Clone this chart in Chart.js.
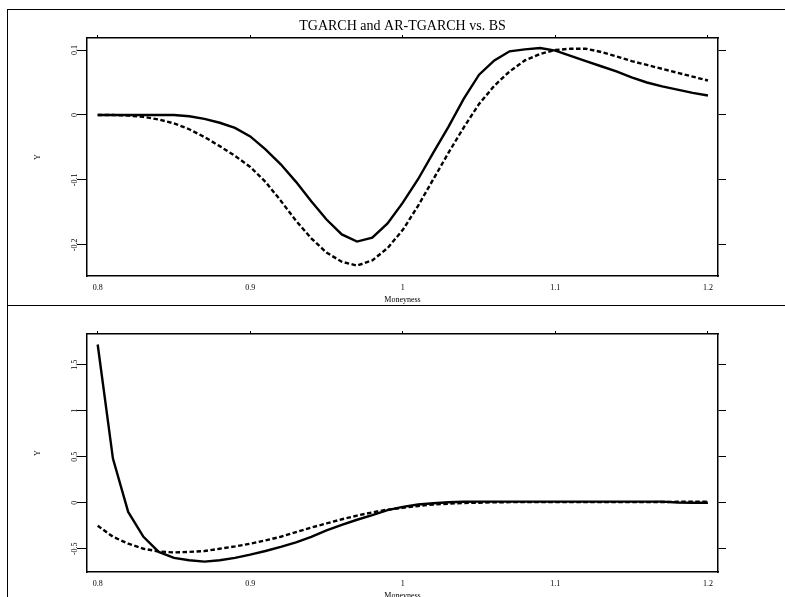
<!DOCTYPE html>
<html><head><meta charset="utf-8">
<script src="https://cdn.jsdelivr.net/npm/chart.js@4/dist/chart.umd.min.js"></script>
<style>
html,body{margin:0;padding:0;background:#fff;width:785px;height:597px;overflow:hidden;position:relative}
#frame{position:absolute;left:7px;top:9px;width:790px;height:600px;border-top:1px solid #000;border-left:1px solid #000}
#divider{position:absolute;left:7px;top:305px;width:790px;height:0;border-top:1px solid #000}
canvas{position:absolute;left:0}
#c1{top:0}
#c2{top:305px}
</style></head><body>
<div id="frame"></div><div id="divider"></div>
<canvas id="c1" width="785" height="305"></canvas>
<canvas id="c2" width="785" height="300"></canvas>
<script>
const moneyness = [0.80,0.81,0.82,0.83,0.84,0.85,0.86,0.87,0.88,0.89,0.90,0.91,0.92,0.93,0.94,0.95,0.96,0.97,0.98,0.99,1.00,
  1.01,1.02,1.03,1.04,1.05,1.06,1.07,1.08,1.09,1.10,1.11,1.12,1.13,1.14,1.15,1.16,1.17,1.18,1.19,1.20];
const tgarchTop = [0,0,0,0,0,0,-0.002,-0.006,-0.012,-0.020,-0.033,-0.053,-0.076,-0.103,-0.133,-0.161,-0.184,-0.195,-0.189,-0.167,-0.135,
  -0.099,-0.058,-0.018,0.025,0.062,0.084,0.098,0.101,0.103,0.099,0.091,0.083,0.075,0.067,0.058,0.050,0.044,0.039,0.034,0.030];
const arTgarchTop = [0,0,-0.001,-0.003,-0.007,-0.013,-0.022,-0.034,-0.048,-0.063,-0.080,-0.103,-0.132,-0.163,-0.190,-0.212,-0.226,-0.232,-0.224,-0.205,-0.177,
  -0.140,-0.099,-0.058,-0.019,0.017,0.045,0.067,0.084,0.094,0.100,0.102,0.102,0.097,0.090,0.083,0.077,0.071,0.065,0.059,0.053];
const tgarchBottom = [1.72,0.48,-0.10,-0.37,-0.535,-0.60,-0.625,-0.64,-0.625,-0.60,-0.565,-0.525,-0.48,-0.43,-0.37,-0.30,-0.24,-0.185,-0.135,-0.08,-0.045,
  -0.02,-0.005,0.005,0.010,0.012,0.012,0.012,0.012,0.012,0.012,0.012,0.012,0.012,0.012,0.012,0.012,0.012,0.002,0,0];
const arTgarchBottom = [-0.25,-0.37,-0.445,-0.50,-0.53,-0.54,-0.535,-0.525,-0.50,-0.475,-0.445,-0.41,-0.37,-0.32,-0.27,-0.225,-0.18,-0.14,-0.105,-0.075,-0.055,
  -0.035,-0.02,-0.01,-0.003,0,0.005,0.006,0.006,0.006,0.006,0.006,0.006,0.006,0.006,0.006,0.006,0.008,0.010,0.012,0.012];
const xTickLabels = ['0.8','0.9','1','1.1','1.2'];
const titleText = 'TGARCH and AR-TGARCH vs. BS';
const xTitle = 'Moneyness';
const yTitle = 'Y';

const SERIF = "'Liberation Serif','Times New Roman',serif";
Chart.defaults.font.family = SERIF;
Chart.defaults.color = '#000';

function pts(ys){ return moneyness.map((x,i)=>({x:x,y:ys[i]})); }

function makeChart(canvas, solid, dashed, yMin, yMax, yStep, areaTop, areaBottom, canvasH, withTitle){
  const xMin = 0.793, xMax = 1.2066;
  const plugins = {
    legend:{display:false}, tooltip:{enabled:false},
    title: withTitle ? {display:true, text:titleText, fullSize:false, color:'#000',
      font:{family:SERIF,size:14,weight:'normal',lineHeight:1.2}, padding:{top:17.6,bottom:0}} : {display:false}
  };
  const titleH = withTitle ? 17.6 + 14*1.2 : 0;
  const border = {display:true, color:'#000', width:1.5};
  return new Chart(canvas, {
    type:'line',
    data:{datasets:[
      {data:pts(solid), borderColor:'#000', borderWidth:2.4, pointRadius:0, tension:0, fill:false, xAxisID:'x', yAxisID:'y'},
      {data:pts(dashed), borderColor:'#000', borderWidth:2.4, borderDash:[4.5,2.5], pointRadius:0, tension:0, fill:false, xAxisID:'x', yAxisID:'y'}
    ]},
    options:{
      responsive:false, animation:false, events:[],
      layout:{padding:0, autoPadding:false},
      plugins: plugins,
      scales:{
        x:{type:'linear', position:'bottom', min:xMin, max:xMax,
          border: border,
          grid:{display:true, drawOnChartArea:false, drawTicks:false},
          ticks:{stepSize:0.1, includeBounds:false, padding:7.2, maxRotation:0, minRotation:0,
            font:{size:8, family:SERIF}, color:'#000',
            callback:(v)=>{const i=Math.round((v-0.8)/0.1); return xTickLabels[i];}},
          title:{display:true, text:xTitle, font:{size:8, family:SERIF}, color:'#000', padding:{top:0,bottom: canvasH===305?0:4.2}},
          afterFit:(s)=>{ s.height = canvasH - areaBottom; }
        },
        x2:{type:'linear', position:'top', min:xMin, max:xMax,
          border: border,
          grid:{display:true, drawOnChartArea:false, drawTicks:true, tickLength:3, color:'#000', lineWidth:1},
          ticks:{display:false, stepSize:0.1, includeBounds:false},
          afterFit:(s)=>{ s.height = areaTop - titleH; }
        },
        y:{type:'linear', position:'left', min:yMin, max:yMax,
          border: border,
          grid:{display:true, drawOnChartArea:false, drawTicks:true, tickLength:10, color:'#000', lineWidth:1},
          ticks:{stepSize:yStep, includeBounds:false, minRotation:90, maxRotation:90, crossAlign:'center', padding:-4.3,
            font:{size:8, family:SERIF}, color:'#000',
            callback:(v)=>String(+v.toFixed(2))},
          title:{display:true, text:yTitle, font:{size:8, family:SERIF}, color:'#000', padding:{top:33.2,bottom:0}},
          afterFit:(s)=>{ s.width = 87; }
        },
        y2:{type:'linear', position:'right', min:yMin, max:yMax,
          border: border,
          grid:{display:true, drawOnChartArea:false, drawTicks:true, tickLength:8, color:'#000', lineWidth:1},
          ticks:{display:false, stepSize:yStep, includeBounds:false},
          afterFit:(s)=>{ s.width = 785 - 718; }
        }
      }
    }
  });
}

makeChart(document.getElementById('c1'), tgarchTop, arTgarchTop, -0.248, 0.1185, 0.1, 38, 276, 305, true);
makeChart(document.getElementById('c2'), tgarchBottom, arTgarchBottom, -0.753, 1.834, 0.5, 29, 267, 300, false);
</script>
</body></html>
